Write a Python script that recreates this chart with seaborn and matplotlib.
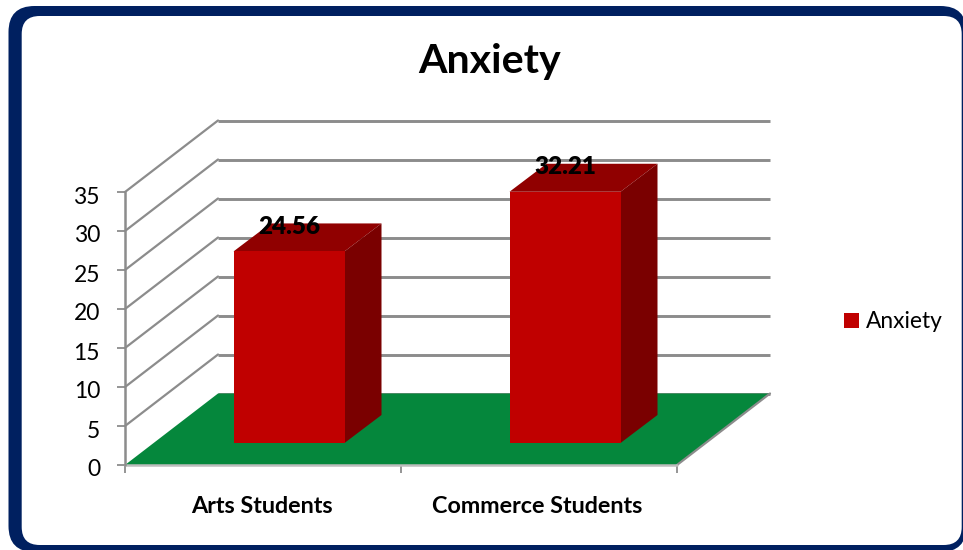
import matplotlib
matplotlib.use("Agg")
import matplotlib.pyplot as plt
import seaborn as sns
from matplotlib.patches import FancyBboxPatch, Polygon
from matplotlib.transforms import Affine2D, IdentityTransform

categories = ["Arts Students", "Commerce Students"]
anxiety = [24.56, 32.21]
y_ticks = [0, 5, 10, 15, 20, 25, 30, 35]
series_name = "Anxiety"

NAVY = "#002060"
GRID = "#8C8C8C"
FRONT = "#C00000"
TOP = "#900000"
SIDE = "#7A0000"
FLOOR = "#05873C"

sns.set_theme(style="white")
plt.rcParams["font.family"] = ["Lato", "DejaVu Sans"]

W, H = 963, 550
fig = plt.figure(figsize=(W / 100, H / 100), dpi=100, facecolor="white")

# Rounded navy frame, in pixels: a navy panel with a white panel on top
for (x, y, w, h, r, colour, z) in [(8.5, -2, 958, 546, 26, NAVY, -3),
                                   (21.7, 5, 940, 529, 18, "white", -2)]:
    fig.patches.append(FancyBboxPatch((x, y), w, h,
                                      boxstyle=f"round,pad=0,rounding_size={r}",
                                      fc=colour, ec="none", transform=IdentityTransform(),
                                      figure=fig, zorder=z))

ax = fig.add_axes([125 / W, (H - 465) / H, 552 / W, 273 / H])
ax.patch.set_visible(False)
for s in ax.spines.values():
    s.set_visible(False)

bar_width = 111 / 276
sns.barplot(x=categories, y=anxiety, color=FRONT, saturation=1, width=bar_width,
            ax=ax, zorder=5, label=series_name, legend=False, linewidth=0, edgecolor="none")
ax.set_xlim(-0.5, 1.5)
ax.set_ylim(0, 35)

# Oblique projection depths, in data units
wall_dx, wall_dy = 93 / 276, 71.5 / 7.8
bar_off_x, bar_off_y = 26 / 276, 22 / 7.8
bar_dx, bar_dy = 37 / 276, 28 / 7.8
x0, x1 = ax.get_xlim()

# Floor
ax.add_patch(Polygon([(x0, 0), (x1, 0), (x1 + wall_dx, wall_dy), (x0 + wall_dx, wall_dy)],
                     closed=True, fc=FLOOR, ec="none", zorder=2, clip_on=False))
ax.plot([x1, x1 + wall_dx], [0, wall_dy], color=GRID, lw=1.6, zorder=2.5, clip_on=False)
ax.plot([x0, x1], [0, 0], color="#BDBDBD", lw=1.8, zorder=2.5, clip_on=False)

# Back wall gridlines and their receding lines on the side wall
for v in y_ticks:
    ax.plot([x0 + wall_dx, x1 + wall_dx], [v + wall_dy] * 2, color=GRID, lw=2.1,
            zorder=1, clip_on=False, solid_capstyle="butt")
    if v > 0:
        ax.plot([x0, x0 + wall_dx], [v, v + wall_dy], color=GRID, lw=1.6,
                zorder=1, clip_on=False)
ax.plot([x0, x0], [0, 35], color=GRID, lw=1.8, zorder=3, clip_on=False)

# Extrude each bar and shift it off the front plane
shift = Affine2D().translate(bar_off_x, bar_off_y) + ax.transData
for bar, value in zip(list(ax.patches)[:len(anxiety)], anxiety):
    left, right = bar.get_x(), bar.get_x() + bar.get_width()
    bar.set_transform(shift)
    bar.set_clip_on(False)
    ax.add_patch(Polygon([(left, value), (right, value), (right + bar_dx, value + bar_dy),
                          (left + bar_dx, value + bar_dy)], closed=True, fc=TOP, ec="none",
                         zorder=4, transform=shift, clip_on=False))
    ax.add_patch(Polygon([(right, 0), (right, value), (right + bar_dx, value + bar_dy),
                          (right + bar_dx, bar_dy)], closed=True, fc=SIDE, ec="none",
                         zorder=4, transform=shift, clip_on=False))
    ax.annotate(f"{value:.2f}", xy=((left + right) / 2, value), xycoords=shift,
                xytext=(0, 17.5), textcoords="offset points", ha="center", va="center",
                fontsize=17.5, fontweight="heavy", color="black", zorder=6,
                annotation_clip=False)

# Axis ticks and labels
ax.set_yticks(y_ticks)
ax.set_xticks([-0.5, 0.5, 1.5], minor=False)
ax.set_xticklabels(["", "", ""])
ax.tick_params(axis="y", length=6, width=1.3, color=GRID, pad=12, labelsize=16.5,
               labelcolor="black", left=True)
ax.tick_params(axis="x", length=6, width=1.3, color=GRID, bottom=True)
for label in ax.get_yticklabels():
    label.set_transform(label.get_transform() + Affine2D().translate(0, -3))
for pos, name in zip(range(len(categories)), categories):
    ax.annotate(name, xy=(pos, 0), xycoords=("data", "axes fraction"), xytext=(-1, -30),
                textcoords="offset points", ha="center", va="center", fontsize=16.8,
                fontweight="bold", color="black", annotation_clip=False)

ax.set_ylabel("")
fig.text(490 / W, (H - 61) / H, series_name, ha="center", va="center", fontsize=29.6,
         fontweight="bold", color="black")

handle = list(ax.patches)[0]
leg = fig.legend([handle], [series_name], loc="center left",
                 bbox_to_anchor=(826 / W, (H - 322) / H), frameon=False, fontsize=16.4,
                 handlelength=0.65, handleheight=0.65, handletextpad=0.3,
                 borderpad=0.3, labelcolor="black")

fig.savefig("out.png", dpi=100, facecolor="white")
